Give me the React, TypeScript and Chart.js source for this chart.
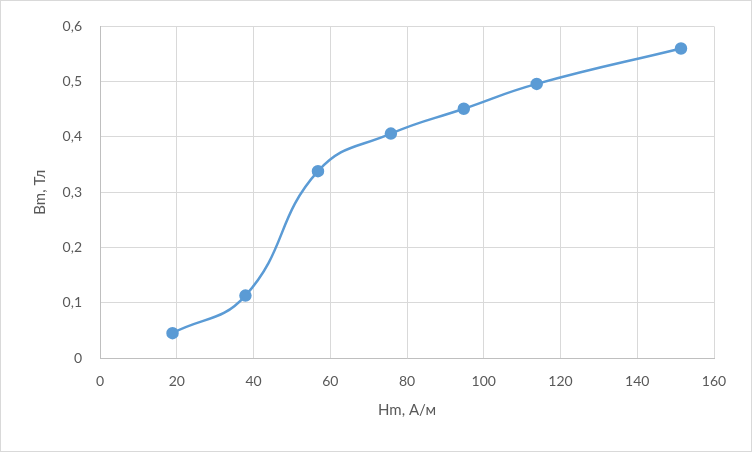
import React, { useEffect, useRef } from "react";
import { Chart, registerables } from "chart.js";

Chart.register(...registerables);

const hValues = [18.9, 37.9, 56.8, 75.8, 94.8, 113.8, 151.4];
const bValues = [0.045, 0.113, 0.338, 0.406, 0.451, 0.496, 0.56];
const xTitle = "Hm, А/м";
const yTitle = "Bm, Тл";

const fontFamily = "Lato, 'Liberation Sans', sans-serif";

const borderPlugin = {
  id: "outerBorder",
  beforeDraw(chart: any) {
    const ctx = chart.ctx;
    ctx.save();
    ctx.fillStyle = "#ffffff";
    ctx.fillRect(0, 0, chart.width, chart.height);
    ctx.strokeStyle = "#d9d9d9";
    ctx.lineWidth = 1;
    ctx.strokeRect(0.5, 0.5, chart.width - 1, chart.height - 1);
    ctx.restore();
  },
};

export default function App() {
  const ref = useRef<HTMLCanvasElement | null>(null);
  useEffect(() => {
    document.body.style.margin = "0";
    const points = hValues.map((x, i) => ({ x, y: bValues[i] }));
    const chart = new Chart(ref.current as HTMLCanvasElement, {
      type: "scatter",
      data: {
        datasets: [
          {
            data: points,
            showLine: true,
            borderColor: "#5b9bd5",
            backgroundColor: "#5b9bd5",
            borderWidth: 2.5,
            pointRadius: 5,
            pointHoverRadius: 5,
            tension: 0.45,
          },
        ],
      },
      plugins: [borderPlugin],
      options: {
        animation: false,
        responsive: false,
        devicePixelRatio: 1,
        layout: { padding: { left: 0, right: 38, top: 23, bottom: 0 } },
        plugins: { legend: { display: false }, tooltip: { enabled: false } },
        scales: {
          x: {
            type: "linear",
            min: 0,
            max: 160,
            ticks: { stepSize: 20, color: "#595959", font: { family: fontFamily, size: 14 }, padding: 15 },
            grid: { color: "#d9d9d9", drawTicks: false },
            border: { color: "#bfbfbf" },
            title: {
              display: true,
              text: xTitle,
              color: "#595959",
              font: { family: fontFamily, size: 15 },
              padding: { top: 0, bottom: 33 },
            },
            afterFit(scale: any) {
              scale.height = 94;
            },
          },
          y: {
            type: "linear",
            min: 0,
            max: 0.6,
            ticks: {
              stepSize: 0.1,
              color: "#595959",
              font: { family: fontFamily, size: 14 },
              padding: 18,
              callback: (v: any) => (Number(v) === 0 ? "0" : Number(v).toFixed(1).replace(".", ",")),
            },
            grid: { color: "#d9d9d9", drawTicks: false },
            border: { color: "#bfbfbf" },
            title: {
              display: true,
              text: yTitle,
              color: "#595959",
              font: { family: fontFamily, size: 15 },
              padding: { top: 31, bottom: 0 },
            },
            afterFit(scale: any) {
              scale.width = 100;
            },
          },
        },
      },
    });
    return () => chart.destroy();
  }, []);
  return (
    <div style={{ position: "absolute", left: 0, top: 0, width: 752, height: 452 }}>
      <canvas ref={ref} width={752} height={452} style={{ width: 752, height: 452 }} />
    </div>
  );
}
